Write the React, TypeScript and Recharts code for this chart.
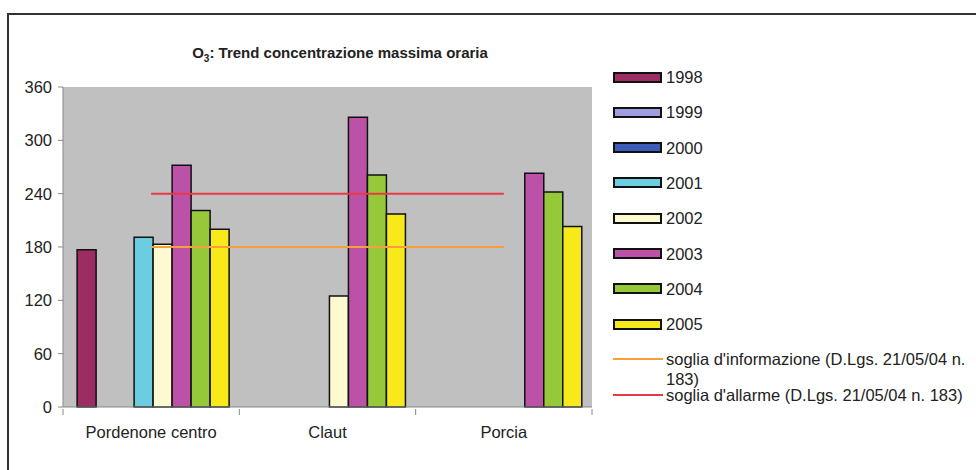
import { Bar, ComposedChart, Line, XAxis, YAxis, CartesianGrid } from "recharts";

const stations = ["Pordenone centro", "Claut", "Porcia"];
const years = ["1998", "1999", "2000", "2001", "2002", "2003", "2004", "2005"];
const v1998 = [177, null, null];
const v1999 = [null, null, null];
const v2000 = [null, null, null];
const v2001 = [191, null, null];
const v2002 = [183, 125, null];
const v2003 = [272, 326, 263];
const v2004 = [221, 261, 242];
const v2005 = [200, 217, 203];
const sogliaInfo = [180, 180, 180];
const sogliaAllarme = [240, 240, 240];
const yTicks = [0, 60, 120, 180, 240, 300, 360];

const infoLabel = "soglia d'informazione (D.Lgs. 21/05/04 n. 183)";
const allarmeLabel = "soglia d'allarme (D.Lgs. 21/05/04 n. 183)";

const yearValues = [v1998, v1999, v2000, v2001, v2002, v2003, v2004, v2005];
const colors = ["#9b2d62", "#a09ee0", "#3c5cb8", "#6ccde0", "#fdf9d0", "#bb52a8", "#96c93a", "#f8ea1a"];
const infoColor = "#f5a03a";
const allarmeColor = "#e83a44";

const data = stations.map((name, i) => {
  const row: Record<string, string | number | null> = { name, info: sogliaInfo[i], allarme: sogliaAllarme[i] };
  years.forEach((y, k) => {
    row[y] = yearValues[k][i];
  });
  return row;
});

const FONT = "'Liberation Sans', Arial, sans-serif";
const HALF_BAND = (592 - 63) / 3 / 2;

function CategoryTick(props: any) {
  const { x, y, payload, index } = props;
  return (
    <g>
      <line x1={x - HALF_BAND} x2={x - HALF_BAND} y1={y - 6} y2={y} stroke="#888" />
      {index === stations.length - 1 && (
        <line x1={x + HALF_BAND} x2={x + HALF_BAND} y1={y - 6} y2={y} stroke="#888" />
      )}
      <text x={x} y={y + 23} textAnchor="middle" fill="#222" fontSize={16.5} fontFamily={FONT}>
        {payload.value}
      </text>
    </g>
  );
}

function LegendBlock() {
  const rows = [
    ...years.map((y, k) => ({ label: y, color: colors[k], kind: "box" })),
    { label: infoLabel, color: infoColor, kind: "line" },
    { label: allarmeLabel, color: allarmeColor, kind: "line" },
  ];
  return (
    <div style={{ position: "absolute", left: 613, top: 67, width: 360, height: 370, fontFamily: FONT }}>
      {rows.map((r, i) => (
        <div
          key={r.label}
          style={{ position: "absolute", top: i * 35.3, left: 0, display: "flex", alignItems: "flex-start" }}
        >
          <div style={{ width: 53, height: 20, display: "flex", alignItems: "center" }}>
            {r.kind === "box" ? (
              <div style={{ width: 45, height: 7, background: r.color, border: "2px solid #111" }} />
            ) : (
              <div style={{ width: 50, height: 2, background: r.color }} />
            )}
          </div>
          <div style={{ fontSize: 16.5, lineHeight: "20px", color: "#222", width: 308 }}>{r.label}</div>
        </div>
      ))}
    </div>
  );
}

export default function App() {
  return (
    <div style={{ position: "absolute", left: 0, top: 0, width: 976, height: 470, background: "#fff", overflow: "hidden" }}>
      <div
        style={{
          position: "absolute",
          left: 7,
          top: 13,
          width: 1000,
          height: 500,
          borderLeft: "2px solid #333",
          borderTop: "2px solid #333",
        }}
      />
      <div
        style={{
          position: "absolute",
          left: 140,
          width: 400,
          top: 44,
          textAlign: "center",
          fontFamily: FONT,
          fontWeight: "bold",
          fontSize: 15,
          color: "#222",
          whiteSpace: "nowrap",
        }}
      >
        O<sub style={{ fontSize: 10 }}>3</sub>: Trend concentrazione massima oraria
      </div>
      <div style={{ position: "absolute", left: 0, top: 0 }}>
        <ComposedChart
          width={976}
          height={470}
          data={data}
          margin={{ top: 87, right: 384, bottom: 33, left: 23 }}
          barGap={0}
          barCategoryGap="8%"
        >
          <CartesianGrid fill="#c0c0c0" horizontal={false} vertical={false} />
          <XAxis
            dataKey="name"
            stroke="#888"
            tickLine={false}
            tick={<CategoryTick />}
            height={30}
            interval={0}
          />
          <XAxis xAxisId="top" dataKey="name" orientation="top" stroke="#888" tick={false} tickLine={false} height={0} />
          <YAxis
            domain={[0, 360]}
            ticks={yTicks}
            stroke="#888"
            tickSize={5}
            width={40}
            tick={{ fill: "#222", fontSize: 16.5, fontFamily: FONT }}
            tickMargin={6}
            interval={0}
          />
          <YAxis yAxisId="right" orientation="right" domain={[0, 360]} stroke="#888" tick={false} tickLine={false} width={0} />
          {years.map((y, k) => (
            <Bar key={y} dataKey={y} fill={colors[k]} stroke="#111" strokeWidth={1.5} isAnimationActive={false} />
          ))}
          <Line dataKey="info" name={infoLabel} stroke={infoColor} strokeWidth={2} dot={false} isAnimationActive={false} />
          <Line dataKey="allarme" name={allarmeLabel} stroke={allarmeColor} strokeWidth={2} dot={false} isAnimationActive={false} />
        </ComposedChart>
      </div>
      <LegendBlock />
    </div>
  );
}
